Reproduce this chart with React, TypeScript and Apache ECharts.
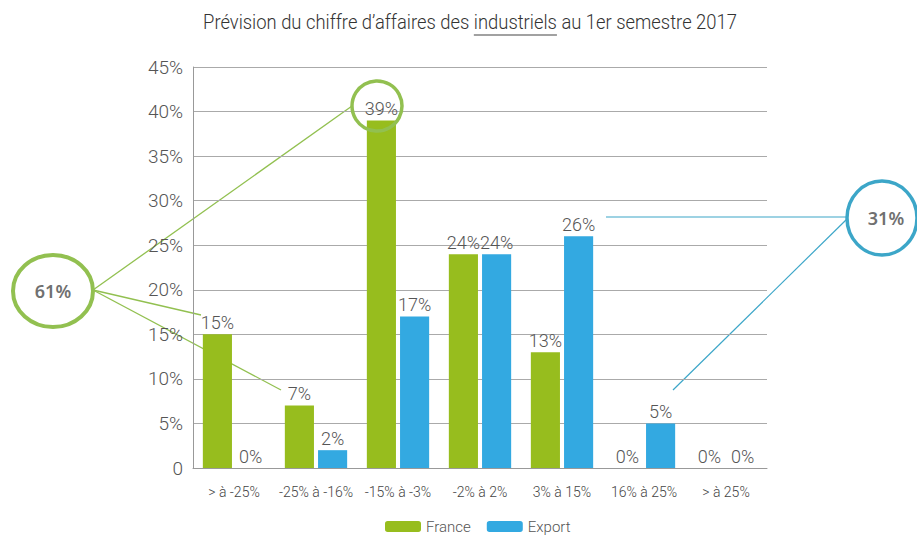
import React, { useEffect, useRef } from "react";
import * as echarts from "echarts";

const categories = ["> à -25%", "-25% à -16%", "-15% à -3%", "-2% à 2%", "3% à 15%", "16% à 25%", "> à 25%"];
const france = [15, 7, 39, 24, 13, 0, 0];
const exportVals = [0, 2, 17, 24, 26, 5, 0];
const seriesNames = ["France", "Export"];
const titlePre = "Prévision du chiffre d’affaires des ";
const titleWord = "industriels";
const titlePost = " au 1er semestre 2017";
const greenGroup = [0, 1, 2]; // France categories summed in the 61% circle
const blueGroup = [4, 5]; // Export categories summed in the 31% circle

const FONT = "Roboto, 'Noto Sans', sans-serif";
const GREEN = "#97bd1e";
const BLUE = "#33a9e1";
const LGREEN = "#92c050";
const LBLUE = "#3ca6c8";

function measure(text: string, size: number, weight: string | number) {
  const c = document.createElement("canvas").getContext("2d")!;
  c.font = `${weight} ${size}px ${FONT}`;
  return c.measureText(text).width;
}

export default function App() {
  const ref = useRef<HTMLDivElement>(null);
  useEffect(() => {
    const chart = echarts.init(ref.current!, undefined, { renderer: "svg" });
    const titleSize = 21;
    const tw = 300;
    const full = titlePre + titleWord + titlePost;
    const W = measure(full, titleSize, tw);
    const P = measure(titlePre, titleSize, tw);
    const Wd = measure(titleWord, titleSize, tw);
    const s = 534 / W;
    const tcx = 470;
    const tcy = 22;
    const ulx = tcx - (W * s) / 2 + P * s;
    const sumG = greenGroup.reduce((a, i) => a + france[i], 0);
    const sumB = blueGroup.reduce((a, i) => a + exportVals[i], 0);

    const labelCommon = {
      show: true,
      position: "top",
      formatter: "{c}%",
      fontFamily: FONT,
      fontWeight: 300,
      fontSize: 18,
      color: "#555",
      distance: 3,
    };

    chart.setOption({
      animation: false,
      grid: { left: 193, right: 150, top: 67, bottom: 73 },
      legend: {
        data: seriesNames,
        bottom: 2,
        left: 380,
        icon: "roundRect",
        itemWidth: 36,
        itemHeight: 11,
        itemGap: 16,
        textStyle: { fontFamily: FONT, fontWeight: 300, fontSize: 15, color: "#555" },
      },
      xAxis: {
        type: "category",
        data: categories,
        axisLine: { show: true, lineStyle: { color: "#999", width: 1 } },
        axisTick: { show: false },
        axisLabel: { interval: 0, fontFamily: FONT, fontWeight: 300, fontSize: 14, color: "#444", margin: 17 },
      },
      yAxis: {
        type: "value",
        min: 0,
        max: 45,
        interval: 5,
        axisLine: { show: true, lineStyle: { color: "#999", width: 1 } },
        splitLine: { lineStyle: { color: "#aaa", width: 1.2 } },
        axisLabel: {
          fontFamily: FONT,
          fontWeight: 300,
          fontSize: 19,
          color: "#555",
          margin: 10,
          formatter: (v: number) => (v === 0 ? "0" : v + "%"),
        },
      },
      series: [
        {
          name: seriesNames[0],
          type: "bar",
          data: france,
          itemStyle: { color: GREEN },
          barCategoryGap: "24%",
          barGap: "14%",
          label: labelCommon,
        },
        {
          name: seriesNames[1],
          type: "bar",
          data: exportVals,
          itemStyle: { color: BLUE },
          barCategoryGap: "24%",
          barGap: "14%",
          label: labelCommon,
        },
      ],
      graphic: [
        {
          type: "text",
          x: tcx,
          y: tcy,
          scaleX: s,
          style: {
            text: full,
            fontFamily: FONT,
            fontWeight: tw,
            fontSize: titleSize,
            fill: "#333",
            textAlign: "center",
            textVerticalAlign: "middle",
          },
        },
        {
          type: "line",
          shape: { x1: ulx, y1: tcy + 13, x2: ulx + Wd * s, y2: tcy + 13 },
          style: { stroke: "#444", lineWidth: 1.2 },
        },
        // green annotation lines
        { type: "line", shape: { x1: 93, y1: 290, x2: 352, y2: 106 }, style: { stroke: LGREEN, lineWidth: 1.3 } },
        { type: "line", shape: { x1: 93, y1: 290, x2: 201, y2: 315 }, style: { stroke: LGREEN, lineWidth: 1.3 } },
        { type: "line", shape: { x1: 93, y1: 290, x2: 281, y2: 390 }, style: { stroke: LGREEN, lineWidth: 1.3 } },
        {
          type: "ellipse",
          shape: { cx: 53, cy: 291, rx: 40, ry: 36 },
          style: { fill: "#fff", stroke: LGREEN, lineWidth: 4 },
        },
        {
          type: "text",
          x: 53,
          y: 291,
          style: {
            text: sumG + "%",
            fontFamily: "'Noto Sans', sans-serif",
            fontSize: 18,
            fontWeight: 600,
            fill: "#707070",
            textAlign: "center",
            textVerticalAlign: "middle",
          },
        },
        {
          type: "circle",
          shape: { cx: 377, cy: 106, r: 25 },
          style: { fill: "none", stroke: LGREEN, lineWidth: 3.5 },
          z: 100,
        },
        // blue annotation
        { type: "line", shape: { x1: 606, y1: 217, x2: 847, y2: 217 }, style: { stroke: LBLUE, lineWidth: 1.2 } },
        { type: "line", shape: { x1: 848, y1: 218, x2: 673, y2: 390 }, style: { stroke: LBLUE, lineWidth: 1.2 } },
        {
          type: "ellipse",
          shape: { cx: 882, cy: 218, rx: 35, ry: 37 },
          style: { fill: "#fff", stroke: LBLUE, lineWidth: 3.5 },
        },
        {
          type: "text",
          x: 886,
          y: 218,
          style: {
            text: sumB + "%",
            fontFamily: "'Noto Sans', sans-serif",
            fontSize: 18,
            fontWeight: 600,
            fill: "#707070",
            textAlign: "center",
            textVerticalAlign: "middle",
          },
        },
      ],
    });
    return () => chart.dispose();
  }, []);
  return (
    <div
      ref={ref}
      style={{ position: "absolute", left: 0, top: 0, width: 917, height: 541, background: "#fff" }}
    />
  );
}
